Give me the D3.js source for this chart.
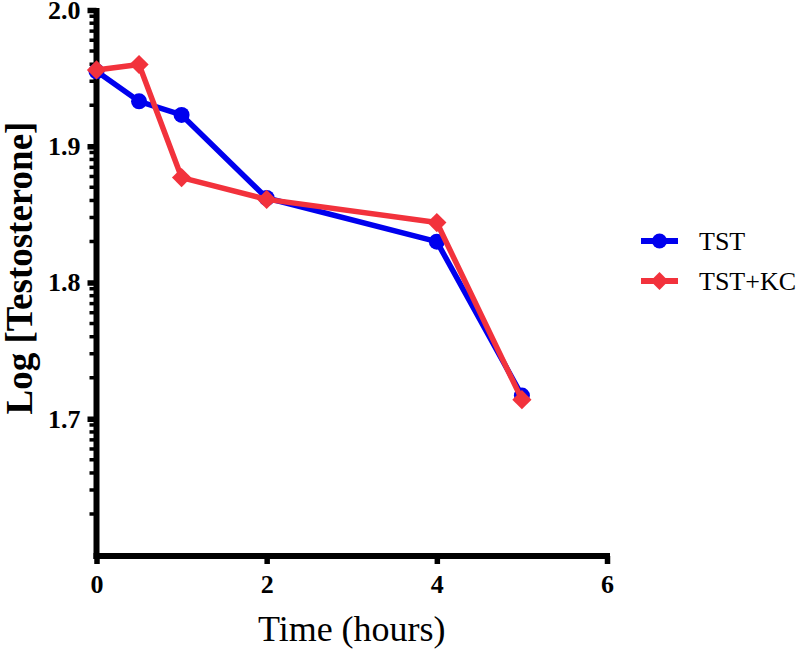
<!DOCTYPE html>
<html><head><meta charset="utf-8">
<script src="https://cdn.jsdelivr.net/npm/d3@7"></script>
<style>body{margin:0;background:#fff}</style>
</head><body>
<svg id="c" width="800" height="652"></svg>
<script>
const timeHours = [0, 0.5, 1, 2, 4, 5];
const tstValues = [1.955, 1.933, 1.923, 1.862, 1.830, 1.717];
const tstKcValues = [1.956, 1.960, 1.877, 1.861, 1.844, 1.714];
const seriesNames = ["TST", "TST+KC"];
const xTickLabels = [0, 2, 4, 6];
const yTickLabels = [1.7, 1.8, 1.9, 2.0];

const svg = d3.select("#c");
const x = d3.scaleLinear().domain([0, 6]).range([96.5, 607]);
const y = d3.scaleLinear().domain([1.6, 2.0]).range([555, 10]);
const serif = "'Liberation Serif','Times New Roman',serif";

// minor log-style ticks within each 0.1 interval
const minor = [];
[1.6,1.7,1.8,1.9].forEach(b => { for (let k=2;k<=9;k++) minor.push(b + 0.1*Math.log10(k)); });

const gy = svg.append("g").attr("transform", `translate(${x(0)},0)`);
gy.selectAll("line.minor").data(minor).join("line")
  .attr("x1", -7).attr("x2", 0).attr("y1", d=>y(d)).attr("y2", d=>y(d))
  .attr("stroke", "#000").attr("stroke-width", 3.5);
const yAxis = d3.axisLeft(y).tickValues(yTickLabels).tickFormat(d3.format(".1f")).tickSize(9).tickPadding(7);
gy.call(yAxis);
gy.select(".domain").remove();
gy.selectAll(".tick line").attr("stroke", "#000").attr("stroke-width", 5.5);
gy.selectAll(".tick text").attr("font-family", serif).attr("font-weight", "bold").attr("font-size", 26).attr("fill","#000");
gy.append("line").attr("x1",0).attr("x2",0).attr("y1",8).attr("y2",559).attr("stroke","#000").attr("stroke-width",6);

const gx = svg.append("g").attr("transform", `translate(0,556)`);
const xAxis = d3.axisBottom(x).tickValues(xTickLabels).tickFormat(d3.format("d")).tickSize(8).tickPadding(11);
gx.call(xAxis);
gx.select(".domain").remove();
gx.selectAll(".tick line").attr("stroke", "#000").attr("stroke-width", 5.5);
gx.selectAll(".tick text").attr("font-family", serif).attr("font-weight", "bold").attr("font-size", 26).attr("fill","#000");
gx.append("line").attr("x1",x(0)-3).attr("x2",x(6)+3).attr("y1",0).attr("y2",0).attr("stroke","#000").attr("stroke-width",6);

const colors = ["#0000ee", "#f2323c"];
const series = [tstValues, tstKcValues];
const line = d3.line().x((d,i)=>x(timeHours[i])).y(d=>y(d));

series.forEach((vals, si) => {
  svg.append("path").datum(vals).attr("d", line).attr("fill","none")
    .attr("stroke", colors[si]).attr("stroke-width", 5.5).attr("stroke-linejoin","round");
  const g = svg.append("g");
  vals.forEach((v,i) => {
    if (si === 0) {
      g.append("circle").attr("cx", x(timeHours[i])).attr("cy", y(v)).attr("r", 8).attr("fill", colors[si]);
    } else {
      g.append("path").attr("d", d3.symbol().type(d3.symbolSquare).size(185)())
        .attr("transform", `translate(${x(timeHours[i])},${y(v)}) rotate(45)`).attr("fill", colors[si]);
    }
  });
});

// legend
const lg = svg.append("g");
seriesNames.forEach((name, i) => {
  const ly = 241 + i*40;
  lg.append("line").attr("x1",641).attr("x2",678).attr("y1",ly).attr("y2",ly).attr("stroke",colors[i]).attr("stroke-width",6);
  if (i===0) lg.append("circle").attr("cx",659.5).attr("cy",ly).attr("r",7.5).attr("fill",colors[i]);
  else lg.append("path").attr("d", d3.symbol().type(d3.symbolSquare).size(160)()).attr("transform",`translate(659.5,${ly}) rotate(45)`).attr("fill",colors[i]);
  lg.append("text").attr("x",699).attr("y",ly+9).text(name).attr("font-family",serif).attr("font-size",26).attr("fill","#000");
});

svg.append("text").attr("x", (x(0)+x(6))/2).attr("y", 641).attr("text-anchor","middle")
  .attr("font-family", serif).attr("font-size", 36).attr("fill","#000").text("Time (hours)");
svg.append("text").attr("transform","translate(32,268) rotate(-90)").attr("text-anchor","middle")
  .attr("font-family", serif).attr("font-weight","bold").attr("font-size", 37).attr("fill","#000").text("Log [Testosterone]");
</script>
</body></html>
